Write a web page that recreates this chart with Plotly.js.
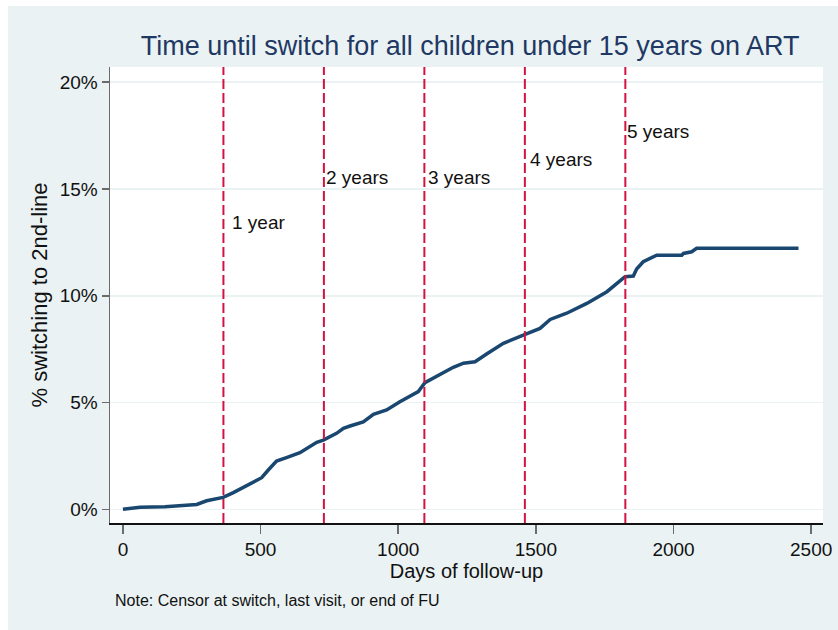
<!DOCTYPE html>
<html>
<head>
<meta charset="utf-8">
<script src="https://cdn.plot.ly/plotly-3.0.1.min.js"></script>
<style>
  html, body { margin: 0; padding: 0; background: #ffffff; }
  #chart { position: absolute; left: 8px; top: 6px; width: 830px; height: 624px; }
</style>
</head>
<body>
<div id="chart"></div>
<script>
// Cumulative share of children switched to 2nd-line ART (Kaplan–Meier failure), in percent
const days = [0, 20, 62, 153, 231, 268, 304, 364, 401, 449, 504, 528, 558, 594, 643, 704, 728,
              776, 801, 825, 873, 910, 958, 1006, 1031, 1055, 1073, 1097, 1103, 1140, 1200, 1237,
              1279, 1321, 1382, 1461, 1515, 1552, 1612, 1685, 1758, 1824, 1854, 1866, 1890, 1939,
              2030, 2036, 2066, 2084, 2454];
const pctSwitched = [0, 0.04, 0.1, 0.12, 0.17, 0.23, 0.40, 0.56, 0.78, 1.09, 1.48, 1.84, 2.26, 2.42,
                     2.65, 3.14, 3.24, 3.56, 3.79, 3.90, 4.09, 4.45, 4.65, 5.04, 5.20, 5.35, 5.51,
                     5.93, 5.97, 6.21, 6.65, 6.84, 6.91, 7.27, 7.77, 8.19, 8.47, 8.89, 9.18, 9.64,
                     10.19, 10.89, 10.92, 11.25, 11.59, 11.90, 11.90, 11.98, 12.06, 12.22, 12.22];

// Year markers (days) and their labels
const yearDays = [365, 730, 1095, 1460, 1825];
const yearLabels = ["1 year", "2 years", "3 years", "4 years", "5 years"];
const yearLabelX = [389, 730, 1101, 1470, 1823];
const yearLabelY = [13.45, 15.56, 15.56, 16.4, 17.7];

// Axis ticks
const xTicks = [0, 500, 1000, 1500, 2000, 2500];
const yTicks = [0, 5, 10, 15, 20];
const yTickText = ["0%", "5%", "10%", "15%", "20%"];

const navy = "#1a476f";
const crimson = "#d21441";
const bg = "#eaf2f3";

const trace = {
  x: days,
  y: pctSwitched,
  type: "scatter",
  mode: "lines",
  line: { color: navy, width: 3.5, shape: "linear" },
  hoverinfo: "x+y",
  showlegend: false
};

const shapes = yearDays.map(d => ({
  type: "line", xref: "x", yref: "paper",
  x0: d, x1: d, y0: 0, y1: 1,
  line: { color: crimson, width: 2, dash: "10px,4px" }
}));

const annotations = yearLabels.map((t, i) => ({
  text: t, x: yearLabelX[i], y: yearLabelY[i], xref: "x", yref: "y",
  xanchor: "left", yanchor: "middle", showarrow: false,
  font: { family: "Liberation Sans, Arial, sans-serif", size: 19, color: "#111111" }
}));

annotations.push({
  text: "Note: Censor at switch, last visit, or end of FU",
  xref: "paper", yref: "paper", x: 0.004, y: -0.169,
  xanchor: "left", yanchor: "middle", showarrow: false,
  font: { family: "Liberation Sans, Arial, sans-serif", size: 16, color: "#111111" }
});

const layout = {
  width: 830,
  height: 624,
  paper_bgcolor: bg,
  plot_bgcolor: "#ffffff",
  margin: { l: 102, r: 15, t: 61, b: 107 },
  font: { family: "Liberation Sans, Arial, sans-serif", color: "#111111" },
  title: {
    text: "Time until switch for all children under 15 years on ART",
    font: { family: "Liberation Sans, Arial, sans-serif", size: 27, color: "#1f3864" },
    xref: "paper", x: 0.505, xanchor: "center",
    yref: "container", y: 0.936, yanchor: "middle"
  },
  xaxis: {
    range: [-47, 2543],
    tickvals: xTicks,
    ticktext: xTicks.map(String),
    ticks: "outside", ticklen: 9, tickwidth: 1.5, tickcolor: "#6b6b6b",
    tickfont: { size: 19, color: "#111111" },
    showgrid: false, zeroline: false,
    showline: true, linecolor: "#111111", linewidth: 1.5,
    title: { text: "Days of follow-up", font: { size: 20, color: "#111111" }, standoff: 2 },
    automargin: false
  },
  yaxis: {
    range: [-0.64, 20.71],
    tickvals: yTicks,
    ticktext: yTickText,
    ticks: "outside", ticklen: 7, tickwidth: 1.5, tickcolor: "#6b6b6b",
    tickfont: { size: 19, color: "#111111" },
    showgrid: true, gridcolor: bg, gridwidth: 1.5,
    zeroline: false,
    showline: true, linecolor: "#6b6b6b", linewidth: 1.5,
    title: { text: "% switching to 2nd-line", font: { size: 22, color: "#111111" }, standoff: 6 },
    automargin: false
  },
  shapes: shapes,
  annotations: annotations
};

Plotly.newPlot("chart", [trace], layout, { displayModeBar: false, staticPlot: true });
</script>
</body>
</html>
